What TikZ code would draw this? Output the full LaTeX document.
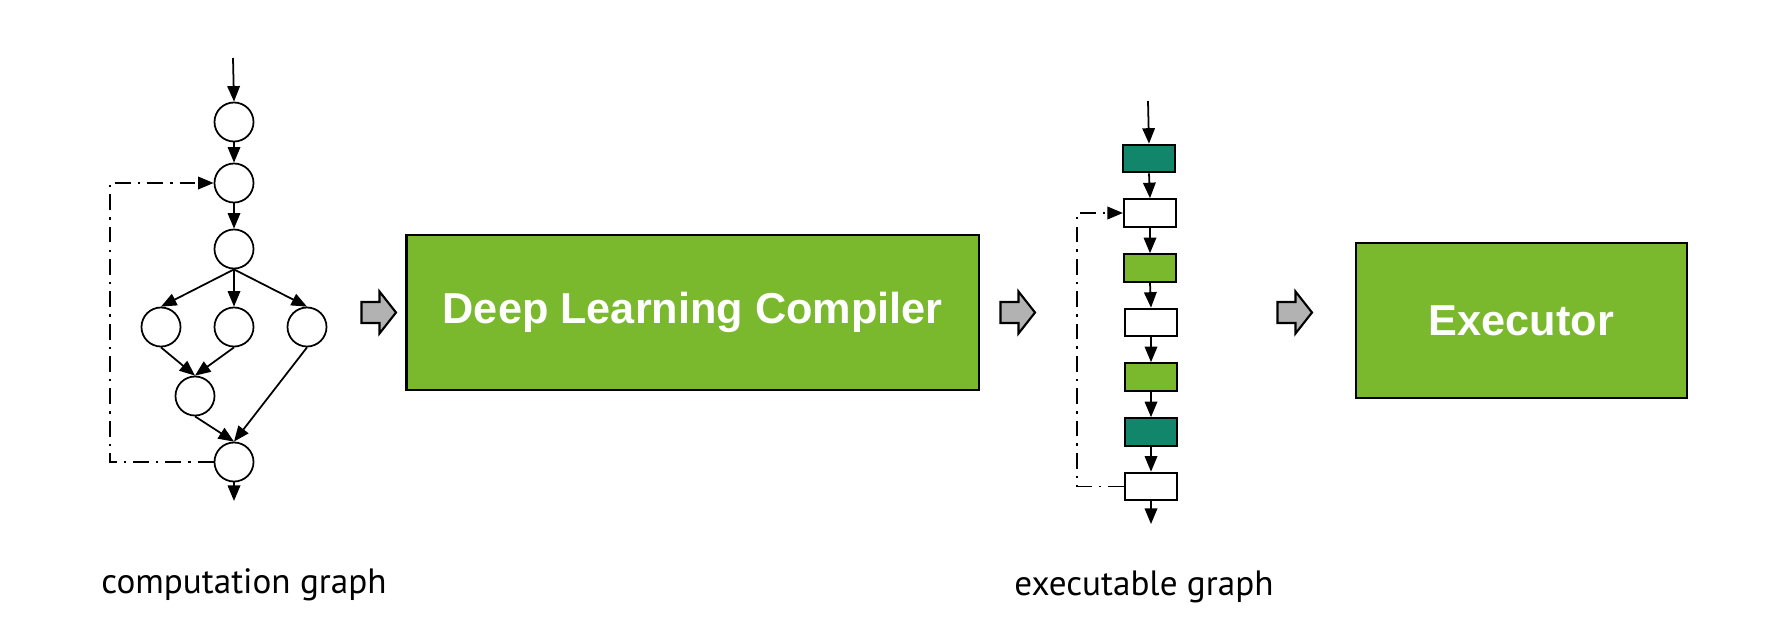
\documentclass[tikz,border=0pt]{standalone}
\usepackage{fontspec}
\setmainfont{PT Sans}
\newfontfamily\boxfont{Liberation Sans}
\usetikzlibrary{arrows.meta}

\definecolor{dlgreen}{RGB}{122,184,46}
\definecolor{dlteal}{RGB}{17,134,106}

\tikzset{
    graph node/.style={
      circle,
      draw=black,
      line width=0.5pt,
      inner sep=0pt,
      minimum size=0.39cm
    },
    exec node/.style={
      rectangle,
      draw=black,
      line width=0.6pt,
      inner sep=0pt,
      minimum width=0.52cm,
      minimum height=0.275cm
    },
    graph edge/.style={
      line width=0.5pt,
      -{Triangle[length=0.155cm,width=0.125cm]}
    },
    loop edge/.style={
      line width=0.55pt,
      dash pattern=on 4.5pt off 2pt on 0.7pt off 2pt,
      -{Triangle[length=0.155cm,width=0.125cm]}
    },
    big box/.style={
      rectangle,
      draw=black,
      line width=0.6pt,
      fill=dlgreen,
      text=white,
      font=\boxfont\bfseries\fontsize{12.3}{14}\selectfont
    },
    block arrow/.style={
      draw=black,
      line width=0.6pt,
      fill=black!30
    },
    caption/.style={
      font=\fontsize{10}{12}\selectfont
    }
  }

% block arrow at a named coordinate (its middle)
\newcommand{\blockarrow}[1]{%
  \draw[block arrow] (#1) ++(-17,-10.5) -- ++(18,0) -- ++(0,-10.5)
    -- ++(16.5,21) -- ++(-16.5,21) -- ++(0,-10.5) -- ++(-18,0) -- cycle;}

\begin{document}
\begin{tikzpicture}[x=0.01cm,y=-0.01cm]
      \useasboundingbox (0,0) rectangle (1766,624);

      % computation graph
      \coordinate (cin) at (233,58);
      \node[graph node] (c1) at (234,122) {};
      \node[graph node] (c2) at (234,183) {};
      \node[graph node] (c3) at (234,249) {};
      \node[graph node] (c4) at (161,327) {};
      \node[graph node] (c5) at (234,327) {};
      \node[graph node] (c6) at (307,327) {};
      \node[graph node] (c7) at (195,396) {};
      \node[graph node] (c8) at (234,462) {};
      \coordinate (cout) at (234,501);

      \draw[graph edge] (cin) -- (c1.north);
      \draw[graph edge] (c1) -- (c2);
      \draw[graph edge] (c2) -- (c3);
      \foreach \n in {c4,c5,c6}
        \draw[graph edge] (c3.south) -- (\n.north);
      \draw[graph edge] (c4.south) -- (c7.north);
      \draw[graph edge] (c5.south) -- (c7.north);
      \draw[graph edge] (c7.south) -- (c8.north);
      \draw[graph edge] (c6.south) -- (c8.north);
      \draw[graph edge] (c8) -- (cout);
      \draw[loop edge] (c8.west) -- ++(-104,0) |- (c2.west);

      % compiler and executor
      \node[big box, minimum width=5.72cm, minimum height=1.55cm] (compiler) at (692.7,312.5) {Deep Learning Compiler};
      \node[big box, minimum width=3.31cm, minimum height=1.55cm] (executor) at (1521.5,320.8) {Executor};

      \coordinate (a1) at (378.5,312.5);
      \coordinate (a2) at (1017.5,312.5);
      \coordinate (a3) at (1294.5,312.5);
      \foreach \a in {a1,a2,a3}
        \blockarrow{\a};

      % executable graph
      \coordinate (ein) at (1148,101);
      \node[exec node, fill=dlteal] (e1) at (1149,158.5) {};
      \node[exec node] (e2) at (1150,213) {};
      \node[exec node, fill=dlgreen] (e3) at (1150,268) {};
      \node[exec node] (e4) at (1151,322.5) {};
      \node[exec node, fill=dlgreen] (e5) at (1151,377) {};
      \node[exec node, fill=dlteal] (e6) at (1151,432) {};
      \node[exec node] (e7) at (1151,486.5) {};
      \coordinate (eout) at (1151,524);

      \draw[graph edge] (ein) -- (e1.north);
      \foreach \i [count=\j from 2] in {1,...,6}
        \draw[graph edge] (e\i.south) -- (e\j.north);
      \draw[graph edge] (e7) -- (eout);
      \draw[loop edge] (e7.west) -- ++(-47,0) |- (e2.west);

      % captions
      \node[caption] (ctext) at (244,585) {computation graph};
      \node[caption] (etext) at (1144,587) {executable graph};
    \end{tikzpicture}
\end{document}
